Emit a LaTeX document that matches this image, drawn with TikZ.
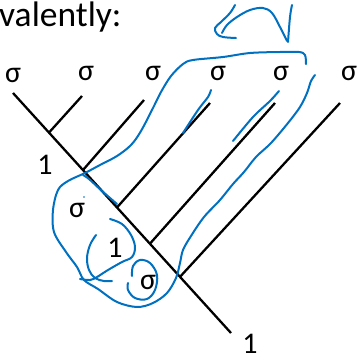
\documentclass[tikz,border=0pt]{standalone}
\usepackage{fontspec}
\setmainfont{Carlito}
\usetikzlibrary{calc}
\definecolor{inkblue}{RGB}{0,112,192}
\begin{document}
\begin{tikzpicture}[x=1pt,y=-1pt,
  treeline/.style={line width=2.3pt,black},
  ink/.style={line width=2pt,inkblue,line cap=round,line join=round},
  lab/.style={inner sep=0pt,font=\fontsize{30}{30}\selectfont},
  title/.style={inner sep=0pt,anchor=base west,font=\fontsize{35.5}{36}\selectfont}]
\useasboundingbox (0,0) rectangle (358,360);
% title
\node[title] (ttl) at (-1,26) {valently:};
% tree
\coordinate (mt) at (13,93);
\coordinate (mb) at (231,333);
\coordinate (j1) at ($(mt)!0.165!(mb)$);
\coordinate (j2) at ($(mt)!0.321!(mb)$);
\coordinate (j3) at ($(mt)!0.477!(mb)$);
\coordinate (j4) at ($(mt)!0.628!(mb)$);
\coordinate (j5) at ($(mt)!0.766!(mb)$);
\coordinate (t1) at (82,96);
\coordinate (t2) at (144,100);
\coordinate (t3) at (210,103);
\coordinate (t4) at (275,103);
\coordinate (t5) at (340,103);
\draw[treeline] (mt) -- (mb);
\draw[treeline] (j1) -- (t1);
\draw[treeline] (j2) -- (t2);
\draw[treeline] (j3) -- (t3);
\draw[treeline] (j4) -- (t4);
\draw[treeline] (j5) -- (t5);
% labels
\node[lab] (s1) at (13,75) {σ};
\node[lab] (s2) at (86,73) {σ};
\node[lab] (s3) at (153,73) {σ};
\node[lab] (s4) at (218,73) {σ};
\node[lab] (s5) at (281,73) {σ};
\node[lab] (s6) at (349,73) {σ};
\node[lab] (o1) at (45,165) {1};
\node[lab] (s7) at (77,210) {σ};
\node[lab] (o2) at (115,248) {1};
\node[lab] (s8) at (148,282) {σ};
\node[lab] (o3) at (250,344) {1};
% blue ink: big loop
\draw[ink] plot[smooth,tension=0.55] coordinates {
 (306,64) (305,55) (299,52) (280,52) (250,53) (223,57) (193,60) (183,64)
 (171,76) (161,92) (153,108) (141,131) (131,145) (117,156) (100,165)
 (85,173) (68,181) (58,190) (53,210) (54,232) (66,252) (77,267) (84,280)
 (98,289) (117,302) (137,307) (153,303) (167,293) (176,278) (180,263)
 (183,250) (191,236) (204,217) (220,200) (233,184) (244,172) (256,157)
 (271,143) (288,123) (300,107) (307,93) (311,81) (315,75)};
% along main line
\draw[ink] plot[smooth] coordinates {(83,175) (89,179) (102,191) (117,204)};
\fill[inkblue] (84,197) circle (0.8pt);
% inner loop round the 1
\draw[ink] plot[smooth,tension=0.6] coordinates {
 (110,219) (122,224) (131,235) (135,247) (132,257) (122,262) (108,270)
 (97,277) (90,280) (80,279)};
\draw[ink] plot[smooth,tension=0.6] coordinates {
 (96,235) (90,245) (87,258) (89,270) (95,278) (104,281) (112,281)};
% small loop round lower sigma
\draw[ink] plot[smooth,tension=0.6] coordinates {
 (132,276) (133,266) (140,260) (150,263) (157,275) (155,290) (147,299)
 (135,298) (128,290) (128,283)};
% strokes along branches
\draw[ink] plot[smooth] coordinates {(211,90) (208,97) (198,110) (183,133)};
\draw[ink] plot[smooth] coordinates {(279,91) (270,101) (253,117) (233,141)};
% arrow at top
\draw[ink] plot[smooth,tension=0.6] coordinates {
 (235,5) (230,13) (221,22) (215,28) (217,34) (223,37) (236,38)};
\draw[ink] plot[smooth,tension=0.6] coordinates {
 (222,33) (227,25) (237,17) (250,10) (263,8) (272,13) (280,27) (287,41)};
\draw[ink] plot[smooth,tension=0.6] coordinates {(292,5) (290,17) (288,42)};
\end{tikzpicture}
\end{document}
